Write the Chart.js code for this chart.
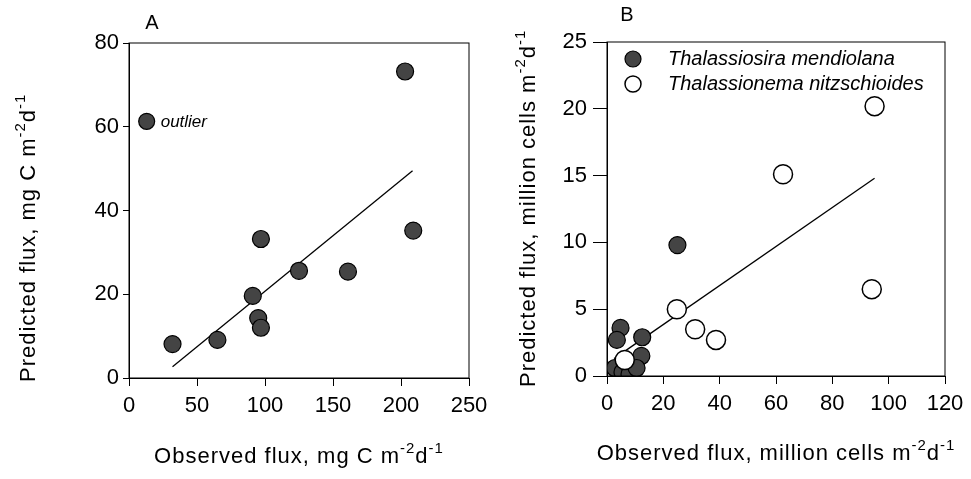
<!DOCTYPE html>
<html>
<head>
<meta charset="utf-8">
<script src="https://cdn.jsdelivr.net/npm/chart.js@4"></script>
<style>
  body { margin: 0; background: #fff; }
  canvas { position: absolute; top: 0; }
  #chartA { left: 0; }
  #chartB { left: 485px; }
</style>
</head>
<body>
<canvas id="chartA" width="500" height="479"></canvas>
<canvas id="chartB" width="486" height="479"></canvas>
<script>
// Panel A: carbon flux
const obsA = [32, 65, 91, 95, 97, 97, 125, 161, 203, 209];
const predA = [8.1, 9.1, 19.6, 14.3, 12.0, 33.2, 25.6, 25.4, 73.2, 35.2];
const outlierObsA = [13];
const outlierPredA = [61.3];
const fitObsA = [32, 208.5];
const fitPredA = [2.7, 49.5];

// Panel B: diatom cell flux
const mendObs = [25, 4.8, 3.5, 12.5, 12.2, 2.8, 5.5, 8, 10.5];
const mendPred = [9.8, 3.6, 2.7, 2.9, 1.5, 0.6, 0.3, 0.15, 0.6];
const nitzObs = [95, 62.5, 94, 24.8, 31.3, 38.7, 6.3];
const nitzPred = [20.2, 15.1, 6.5, 5.0, 3.5, 2.7, 1.2];
const fitObsB = [2.5, 95];
const fitPredB = [1.3, 14.8];

const FONT = 'Liberation Sans, Arial, sans-serif';
const FILL = '#444';

const pts = (xs, ys) => xs.map((x, i) => ({ x: x, y: ys[i] }));

// text with superscripts: parts = [[text, isSup], ...]
function richWidth(ctx, parts, size) {
  let w = 0;
  parts.forEach(p => {
    ctx.font = (p[1] ? size * 0.68 : size) + 'px ' + FONT;
    w += ctx.measureText(p[0]).width;
  });
  return w;
}
function drawRich(ctx, parts, x, y, size) {
  parts.forEach(p => {
    ctx.font = (p[1] ? size * 0.68 : size) + 'px ' + FONT;
    ctx.fillText(p[0], x, p[1] ? y - size * 0.45 : y);
    x += ctx.measureText(p[0]).width;
  });
}

function marker(ctx, x, y, r, filled) {
  ctx.beginPath();
  ctx.arc(x, y, r, 0, Math.PI * 2);
  ctx.fillStyle = filled ? FILL : '#fff';
  ctx.fill();
  ctx.lineWidth = filled ? 1.2 : 1.5;
  ctx.strokeStyle = '#000';
  ctx.stroke();
}

const decor = {
  id: 'decor',
  afterDraw(chart, args, opts) {
    const ctx = chart.ctx;
    const a = chart.chartArea;
    ctx.save();
    ctx.strokeStyle = '#000';
    ctx.lineWidth = 1;
    ctx.strokeRect(a.left, a.top, a.right - a.left, a.bottom - a.top);

    ctx.fillStyle = '#000';
    ctx.textBaseline = 'alphabetic';
    ctx.textAlign = 'left';
    if ('letterSpacing' in ctx) ctx.letterSpacing = '1px';

    // x title
    const size = 22;
    const xw = richWidth(ctx, opts.xTitle, size);
    drawRich(ctx, opts.xTitle, (a.left + a.right) / 2 - xw / 2, opts.xTitleY, size);

    // y title (rotated)
    ctx.save();
    ctx.translate(opts.yTitleX, opts.yTitleStart);
    ctx.rotate(-Math.PI / 2);
    ctx.fillStyle = '#000';
    drawRich(ctx, opts.yTitle, 0, 0, size);
    ctx.restore();

    if ('letterSpacing' in ctx) ctx.letterSpacing = '0px';
    // panel letter
    ctx.font = '20px ' + FONT;
    ctx.textAlign = 'center';
    ctx.textBaseline = 'middle';
    ctx.fillText(opts.letter, opts.letterX, opts.letterY);

    if (opts.outlier) {
      const el = chart.getDatasetMeta(1).data[0];
      ctx.font = 'italic 17px ' + FONT;
      ctx.textAlign = 'left';
      ctx.fillText('outlier', el.x + 14, el.y + 1);
    }
    if (opts.legend) {
      opts.legend.forEach(item => {
        marker(ctx, item.x, item.y, 8, item.filled);
        ctx.fillStyle = '#000';
        ctx.font = 'italic 20px ' + FONT;
        ctx.textAlign = 'left';
        ctx.textBaseline = 'middle';
        ctx.fillText(item.text, item.x + 35, item.y);
      });
    }
    ctx.restore();
  }
};

function axis(min, max, step, tickLength, pad, fit) {
  return {
    type: 'linear', min: min, max: max,
    ticks: { stepSize: step, padding: pad, color: '#000', font: { family: FONT, size: 22 }, maxRotation: 0 },
    grid: { drawOnChartArea: false, drawTicks: true, tickLength: tickLength, color: '#000', lineWidth: 1 },
    border: { display: true, color: '#000', width: 1 },
    afterFit: fit
  };
}

const filledStyle = { pointRadius: 8.5, pointHoverRadius: 8.5, backgroundColor: FILL, borderColor: '#000', borderWidth: 1.2 };
const openStyle = { pointRadius: 9.5, pointHoverRadius: 9.5, backgroundColor: '#fff', borderColor: '#000', borderWidth: 1.5 };
const fitStyle = { type: 'line', showLine: true, pointRadius: 0, borderColor: '#000', borderWidth: 1.3, fill: false };

new Chart(document.getElementById('chartA'), {
  type: 'scatter',
  data: {
    datasets: [
      Object.assign({ label: 'flux', data: pts(obsA, predA), order: 1 }, filledStyle),
      Object.assign({ label: 'outlier', data: pts(outlierObsA, outlierPredA), order: 1 }, filledStyle, { pointRadius: 8 }),
      Object.assign({ label: 'fit', data: pts(fitObsA, fitPredA), order: 2 }, fitStyle)
    ]
  },
  options: {
    responsive: false,
    animation: false,
    layout: { padding: { left: 0, right: 31, top: 43, bottom: 0 } },
    scales: {
      x: axis(0, 250, 50, 8, 7, s => { s.height = 101; }),
      y: axis(0, 80, 20, 6, 4, s => { s.width = 129; })
    },
    plugins: {
      legend: { display: false },
      tooltip: { enabled: false },
      decor: {
        xTitle: [['Observed flux, mg C m', 0], ['-2', 1], ['d', 0], ['-1', 1]],
        yTitle: [['Predicted flux, mg C m', 0], ['-2', 1], ['d', 0], ['-1', 1]],
        xTitleY: 463, yTitleX: 35, yTitleStart: 382,
        letter: 'A', letterX: 152, letterY: 23,
        outlier: true
      }
    }
  },
  plugins: [decor]
});

new Chart(document.getElementById('chartB'), {
  type: 'scatter',
  data: {
    datasets: [
      Object.assign({ label: 'Thalassionema nitzschioides', data: pts(nitzObs, nitzPred), order: 0 }, openStyle),
      Object.assign({ label: 'Thalassiosira mendiolana', data: pts(mendObs, mendPred), order: 1 }, filledStyle),
      Object.assign({ label: 'fit', data: pts(fitObsB, fitPredB), order: 2 }, fitStyle)
    ]
  },
  options: {
    responsive: false,
    animation: false,
    layout: { padding: { left: 0, right: 26, top: 42, bottom: 0 } },
    scales: {
      x: axis(0, 120, 20, 8, 7, s => { s.height = 103; }),
      y: axis(0, 25, 5, 14, 6, s => { s.width = 122; })
    },
    plugins: {
      legend: { display: false },
      tooltip: { enabled: false },
      decor: {
        xTitle: [['Observed flux, million cells m', 0], ['-2', 1], ['d', 0], ['-1', 1]],
        yTitle: [['Predicted flux, million cells m', 0], ['-2', 1], ['d', 0], ['-1', 1]],
        xTitleY: 460, yTitleX: 50, yTitleStart: 387,
        letter: 'B', letterX: 142, letterY: 15,
        legend: [
          { x: 148, y: 59, filled: true, text: 'Thalassiosira mendiolana' },
          { x: 148, y: 84, filled: false, text: 'Thalassionema nitzschioides' }
        ]
      }
    }
  },
  plugins: [decor]
});
</script>
</body>
</html>
